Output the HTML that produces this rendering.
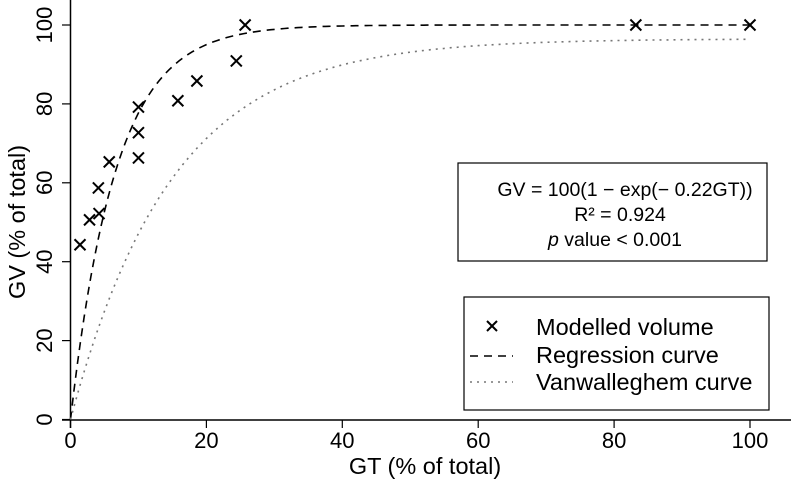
<!DOCTYPE html>
<html><head><meta charset="utf-8"><style>
body{margin:0;background:#fff}
svg text{font-family:"Liberation Sans",sans-serif;fill:#000}
</style></head><body>
<svg width="791" height="487" viewBox="0 0 791 487">
<g id="axes"></g><g id="curves"></g><g id="points"></g>
<rect x="458" y="163" width="309" height="98" fill="none" stroke="#000" stroke-width="1.2"/>
<text x="625" y="196" text-anchor="middle" font-size="19.5">GV = 100(1 − exp(− 0.22GT))</text>
<text x="620" y="221" text-anchor="middle" font-size="19.5">R² = 0.924</text>
<text x="615" y="246" text-anchor="middle" font-size="19.5"><tspan font-style="italic">p</tspan> value &lt; 0.001</text>
<g>
<rect x="464" y="297" width="305" height="113" fill="none" stroke="#000" stroke-width="1.2"/>
<path d="M487 321 l10 10 M497 321 l-10 10" stroke="#000" stroke-width="2"/>
<line x1="470" y1="356" x2="513" y2="356" stroke="#000" stroke-width="1.6" stroke-dasharray="8,6"/>
<line x1="470" y1="382" x2="513" y2="382" stroke="#777" stroke-width="1.6" stroke-dasharray="2,5"/>
<text x="536" y="335" font-size="23.5">Modelled volume</text>
<text x="536" y="363" font-size="23.5">Regression curve</text>
<text x="536" y="390" font-size="23.5">Vanwalleghem curve</text>
</g>
<text x="425" y="474" text-anchor="middle" font-size="23.5">GT (% of total)</text>
<text transform="translate(25,222) rotate(-90)" text-anchor="middle" font-size="23.5">GV (% of total)</text>
</svg>
<script>
const gtValues=[1.4,2.8,4.2,4.1,5.7,10,10,10,15.8,18.6,24.4,25.7,83.2,100];
const gvValues=[44.3,50.6,52.2,58.7,65.3,66.3,72.7,79.2,80.8,85.8,90.9,100,100,100];
const xTicks=[0,20,40,60,80,100];
const yTicks=[0,20,40,60,80,100];
const regressionParams=[100,0.15];
const vanwalleghemParams=[96.5,0.067];
const NS="http://www.w3.org/2000/svg";
const sx=v=>70.5+v*6.795, sy=v=>419.5-v*3.945;
function mk(t,a,p){const e=document.createElementNS(NS,t);for(const k in a)e.setAttribute(k,a[k]);p.appendChild(e);return e;}
const ax=document.getElementById('axes');
let e=mk('line',{x1:62,y1:420,x2:791,y2:420,stroke:'#000','stroke-width':1.5},ax);


e=mk('line',{x1:70.5,y1:0,x2:70.5,y2:428,stroke:'#000','stroke-width':1.5},ax);


xTicks.forEach(t=>{
 mk('line',{x1:sx(t),y1:420,x2:sx(t),y2:428,stroke:'#000','stroke-width':1.2},ax);
 const l=mk('text',{x:sx(t),y:448,'text-anchor':'middle','font-size':22},ax);l.textContent=t;
 
 
});
yTicks.forEach(t=>{
 mk('line',{x1:62,y1:sy(t),x2:70.5,y2:sy(t),stroke:'#000','stroke-width':1.2},ax);
 const l=mk('text',{transform:`translate(52,${sy(t)}) rotate(-90)`,'text-anchor':'middle','font-size':22},ax);l.textContent=t;
 
 
});
const cv=document.getElementById('curves');
function curve(p,style,name){
 let d='';for(let i=0;i<=200;i++){const x=i/2;d+=(i?'L':'M')+sx(x).toFixed(1)+' '+sy(p[0]*(1-Math.exp(-p[1]*x))).toFixed(1);}
 const c=mk('path',Object.assign({d:d,fill:'none'},style),cv);
 
 
}
curve(regressionParams,{stroke:'#000','stroke-width':1.6,'stroke-dasharray':'8,6'},'regression-curve');
curve(vanwalleghemParams,{stroke:'#777','stroke-width':1.6,'stroke-dasharray':'2,5'},'vanwalleghem-curve');
const pt=document.getElementById('points');
gtValues.forEach((g,i)=>{
 const x=sx(g),y=sy(gvValues[i]);
 const p=mk('path',{d:`M${x-5.5} ${y-5.5}L${x+5.5} ${y+5.5}M${x+5.5} ${y-5.5}L${x-5.5} ${y+5.5}`,stroke:'#000','stroke-width':2},pt);
 
 
});
</script>
</body></html>
